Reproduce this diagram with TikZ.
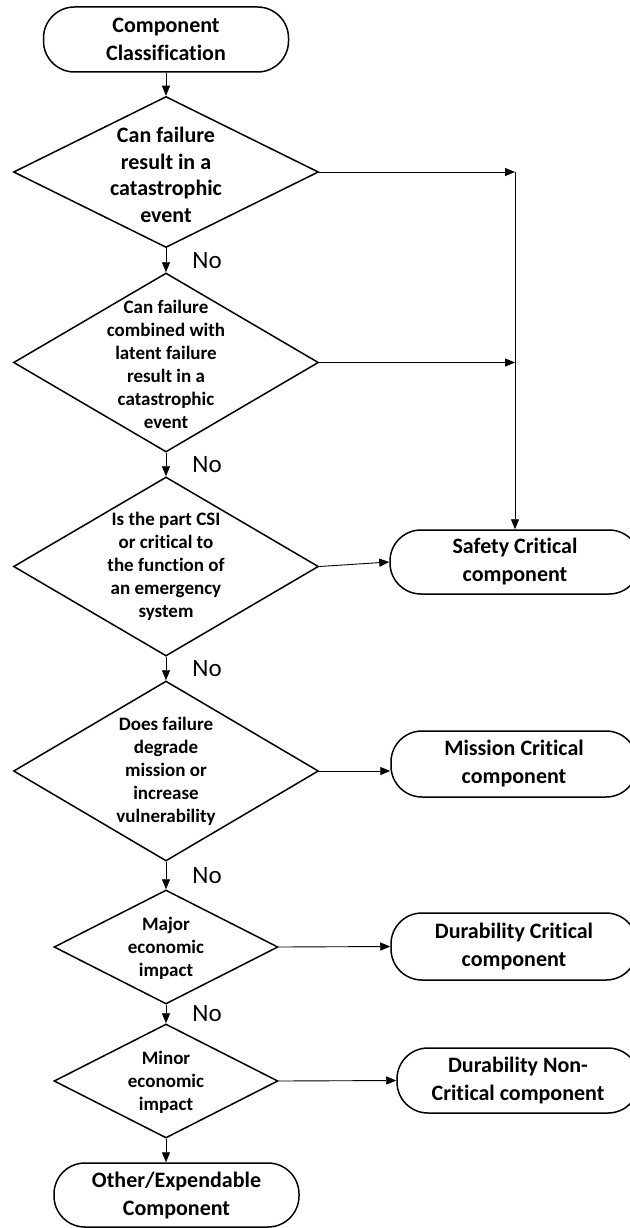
\documentclass[tikz,border=0pt]{standalone}
\usepackage{fontspec}
\setmainfont{Carlito}[Ligatures={NoCommon}]
\usetikzlibrary{shapes.geometric,arrows.meta}
\begin{document}
\begin{tikzpicture}[x=1pt,y=-1pt,
  term/.style={draw, line width=1.5pt, rectangle, rounded corners=31pt,
    font=\bfseries\fontsize{22}{28}\selectfont, align=center, inner sep=0pt},
  dia/.style={draw, line width=1.5pt, diamond, inner sep=0pt},
  dtxt/.style={font=\bfseries\fontsize{19}{23}\selectfont, align=center, inner sep=0pt},
  dtxtbig/.style={font=\bfseries\fontsize{22}{26.7}\selectfont, align=center, inner sep=0pt},
  arr/.style={-{Triangle[length=10pt,width=8pt]}, line width=0.9pt},
  nolab/.style={font=\fontsize{25}{30}\selectfont, inner sep=0pt, anchor=west, xshift=26pt}]
\fill[white] (0,0) rectangle (629,1228);
\useasboundingbox (0,0) rectangle (629,1228);

% terminals
\node[term, minimum width=245pt, minimum height=65pt] (t0) at (166,39.5) {Component\\Classification};
\node[term, minimum width=250pt, minimum height=64pt] (sc) at (515,562) {Safety Critical\\component};
\node[term, minimum width=246pt, minimum height=66pt] (mc) at (514,764) {Mission Critical\\component};
\node[term, minimum width=246pt, minimum height=67pt] (dc) at (514,946.5) {Durability Critical\\component};
\node[term, minimum width=242pt, minimum height=65pt] (dn) at (518,1080.5) {Durability Non-\\Critical component};
\node[term, minimum width=245pt, minimum height=64pt] (te) at (176.5,1195) {Other/Expendable\\Component};

% decisions
\node[dia, minimum width=305pt, minimum height=151pt] (d1) at (166,172) {};
\node[dtxtbig] (d1t) at (166,175) {Can failure\\result in a\\catastrophic\\event};
\node[dia, minimum width=305pt, minimum height=179pt] (d2) at (166,362.5) {};
\node[dtxt] (d2t) at (166,364.5) {Can failure\\combined with\\latent failure\\result in a\\catastrophic\\event};
\node[dia, minimum width=305pt, minimum height=179pt] (d3) at (166,566.5) {};
\node[dtxt] (d3t) at (166,566.5) {Is the part CSI\\or critical to\\the function of\\an emergency\\system};
\node[dia, minimum width=305pt, minimum height=180pt] (d4) at (166,771) {};
\node[dtxt] (d4t) at (166,771) {Does failure\\degrade\\mission or\\increase\\vulnerability};
\node[dia, minimum width=224pt, minimum height=114pt] (d5) at (166,947) {};
\node[dtxt] (d5t) at (166,948) {Major\\economic\\impact};
\node[dia, minimum width=224pt, minimum height=114pt] (d6) at (166,1081) {};
\node[dtxt] (d6t) at (166,1082) {Minor\\economic\\impact};

% main chain
\draw[arr] (t0.south) -- (d1.north);
\draw[arr] (d1.south) -- node[nolab] {No} (d2.north);
\draw[arr] (d2.south) -- node[nolab] {No} (d3.north);
\draw[arr] (d3.south) -- node[nolab] {No} (d4.north);
\draw[arr] (d4.south) -- node[nolab] {No} (d5.north);
\draw[arr] (d5.south) -- node[nolab] {No} (d6.north);
\draw[arr] (d6.south) -- (d6.south |- te.north);

% right branches
\coordinate (b1) at (d1.east -| sc.north);
\coordinate (b2) at (d2.east -| sc.north);
\draw[arr] (d1.east) -- (b1);
\draw[arr] (d2.east) -- (b2);
\draw[arr] (b1) -- (sc.north);
\draw[arr] (d3.east) -- (sc.west);
\draw[arr] (d4.east) -- (d4.east -| mc.west);
\draw[arr] (d5.east) -- (dc.west);
\draw[arr] (d6.east) -- (dn.west);
\end{tikzpicture}
\end{document}
